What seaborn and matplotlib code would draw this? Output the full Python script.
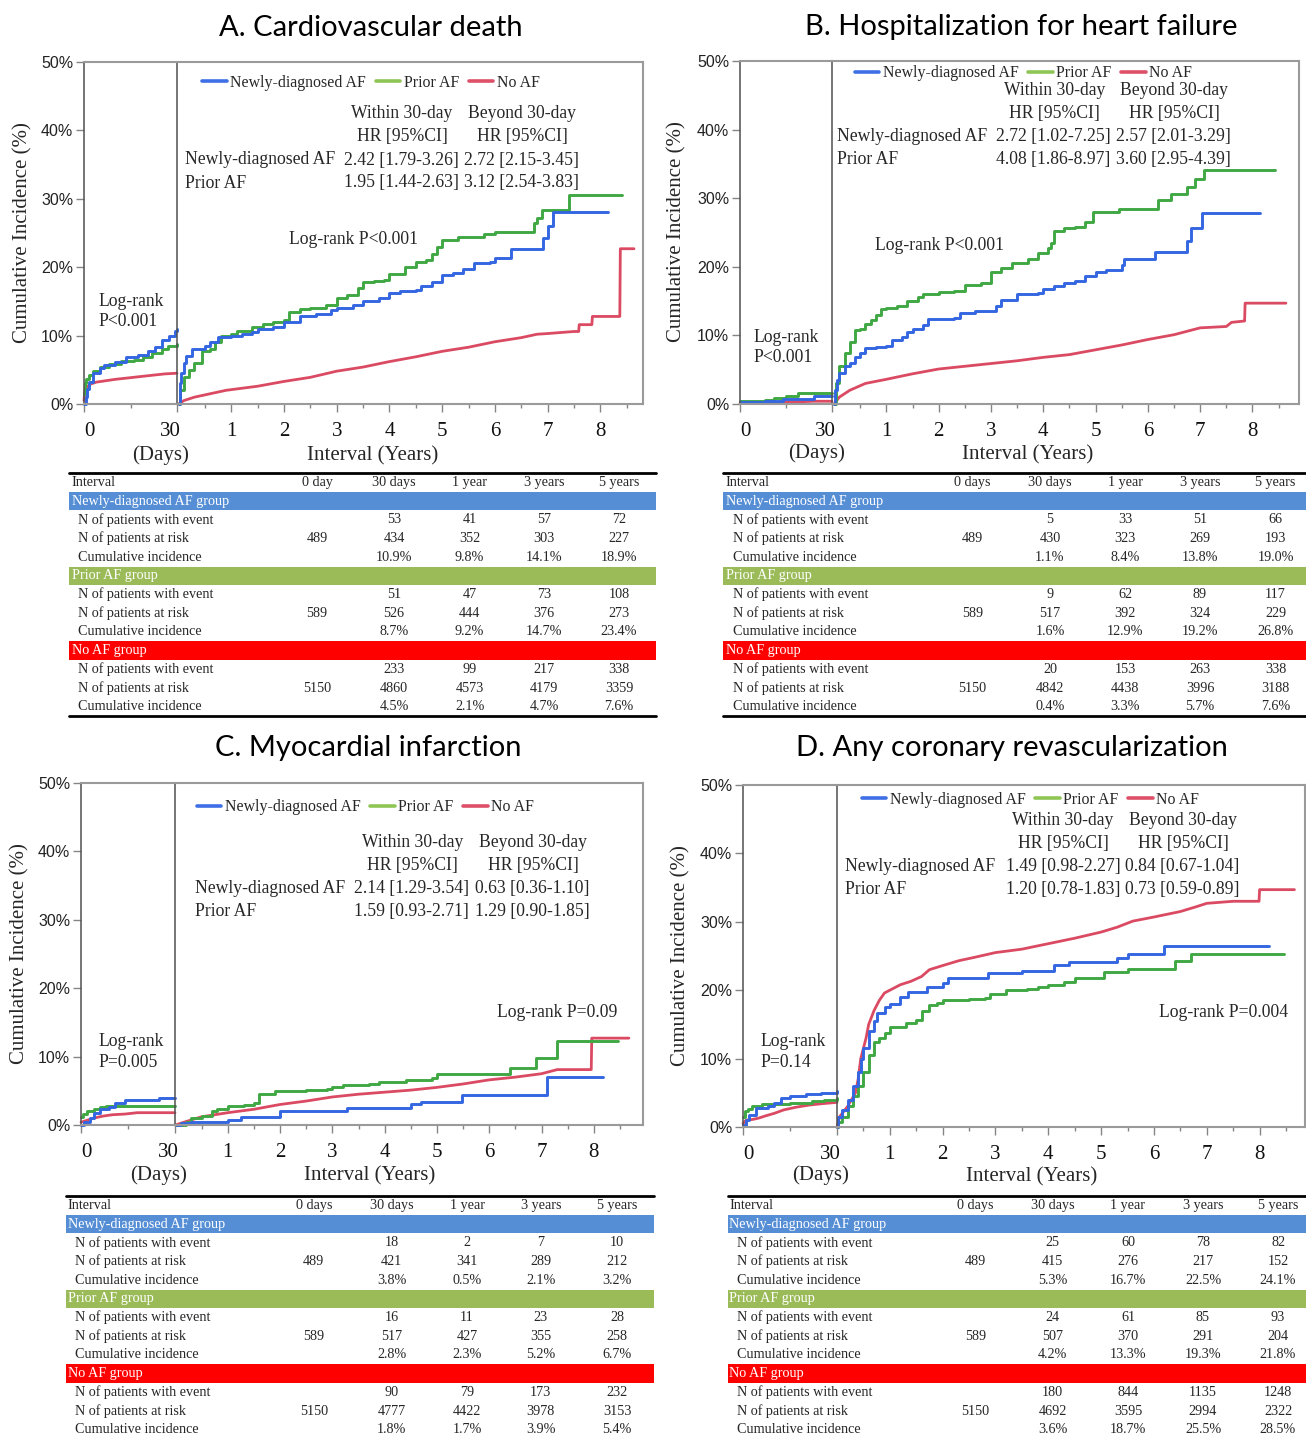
import matplotlib
matplotlib.use("Agg")
import matplotlib.pyplot as plt
import seaborn as sns
from matplotlib.lines import Line2D
from matplotlib.transforms import ScaledTranslation

# ------------------------------------------------------------------ DATA
titles = ["A. Cardiovascular death", "B. Hospitalization for heart failure",
          "C. Myocardial infarction", "D. Any coronary revascularization"]
group_names = ["Newly-diagnosed AF", "Prior AF", "No AF"]
band_labels = ["Newly-diagnosed AF group", "Prior AF group", "No AF group"]
row_labels = ["N of patients with event", "N of patients at risk", "Cumulative incidence"]
col_headers_A = ["Interval", "0 day", "30 days", "1 year", "3 years", "5 years"]
col_headers = ["Interval", "0 days", "30 days", "1 year", "3 years", "5 years"]
hr_headers = ["Within 30-day", "Beyond 30-day"]
hr_sub = "HR [95%CI]"
y_tick_vals = [0, 10, 20, 30, 40, 50]
y_tick_labels = ["0%", "10%", "20%", "30%", "40%", "50%"]
day_tick_vals = [0, 30]
day_tick_labels = ["0", "30"]
year_tick_vals = [1, 2, 3, 4, 5, 6, 7, 8]
year_minor_vals = [0.5, 1.5, 2.5, 3.5, 4.5, 5.5, 6.5, 7.5, 8.5]

# hazard ratios and log-rank
A_hr_new = ["2.42 [1.79-3.26]", "2.72 [2.15-3.45]"]
A_hr_prior = ["1.95 [1.44-2.63]", "3.12 [2.54-3.83]"]
B_hr_new = ["2.72 [1.02-7.25]", "2.57 [2.01-3.29]"]
B_hr_prior = ["4.08 [1.86-8.97]", "3.60 [2.95-4.39]"]
C_hr_new = ["2.14 [1.29-3.54]", "0.63 [0.36-1.10]"]
C_hr_prior = ["1.59 [0.93-2.71]", "1.29 [0.90-1.85]"]
D_hr_new = ["1.49 [0.98-2.27]", "0.84 [0.67-1.04]"]
D_hr_prior = ["1.20 [0.78-1.83]", "0.73 [0.59-0.89]"]
logrank_day = ["P<0.001", "P<0.001", "P=0.005", "P=0.14"]
logrank_year = ["Log-rank P<0.001", "Log-rank P<0.001", "Log-rank P=0.09", "Log-rank P=0.004"]

# risk tables: events (30d,1y,3y,5y), at risk (0d,30d,1y,3y,5y), cumulative incidence %
A_new_events = [53, 41, 57, 72];   A_new_risk = [489, 434, 352, 303, 227];     A_new_ci = [10.9, 9.8, 14.1, 18.9]
A_pri_events = [51, 47, 73, 108];  A_pri_risk = [589, 526, 444, 376, 273];     A_pri_ci = [8.7, 9.2, 14.7, 23.4]
A_no_events = [233, 99, 217, 338]; A_no_risk = [5150, 4860, 4573, 4179, 3359]; A_no_ci = [4.5, 2.1, 4.7, 7.6]
B_new_events = [5, 33, 51, 66];    B_new_risk = [489, 430, 323, 269, 193];     B_new_ci = [1.1, 8.4, 13.8, 19.0]
B_pri_events = [9, 62, 89, 117];   B_pri_risk = [589, 517, 392, 324, 229];     B_pri_ci = [1.6, 12.9, 19.2, 26.8]
B_no_events = [20, 153, 263, 338]; B_no_risk = [5150, 4842, 4438, 3996, 3188]; B_no_ci = [0.4, 3.3, 5.7, 7.6]
C_new_events = [18, 2, 7, 10];     C_new_risk = [489, 421, 341, 289, 212];     C_new_ci = [3.8, 0.5, 2.1, 3.2]
C_pri_events = [16, 11, 23, 28];   C_pri_risk = [589, 517, 427, 355, 258];     C_pri_ci = [2.8, 2.3, 5.2, 6.7]
C_no_events = [90, 79, 173, 232];  C_no_risk = [5150, 4777, 4422, 3978, 3153]; C_no_ci = [1.8, 1.7, 3.9, 5.4]
D_new_events = [25, 60, 78, 82];   D_new_risk = [489, 415, 276, 217, 152];     D_new_ci = [5.3, 16.7, 22.5, 24.1]
D_pri_events = [24, 61, 85, 93];   D_pri_risk = [589, 507, 370, 291, 204];     D_pri_ci = [4.2, 13.3, 19.3, 21.8]
D_no_events = [180, 844, 1135, 1248]; D_no_risk = [5150, 4692, 3595, 2994, 2322]; D_no_ci = [3.6, 18.7, 25.5, 28.5]

# ---- curves, panel A (days 0-30, then years after day 30), values in %
A_day_new_t = [0, 0.5, 1, 1.7, 3, 5, 6.5, 10, 13.5, 17.5, 20.5, 23, 25, 27.5, 29.5, 30]
A_day_new_y = [0, 1.0, 2.2, 3.2, 4.5, 5.2, 5.7, 6.1, 6.8, 7.2, 7.8, 8.3, 9.4, 9.9, 10.6, 10.9]
A_day_pri_t = [0, 0.2, 0.7, 1.5, 3, 5, 8, 12, 16, 19, 22, 25, 27, 30]
A_day_pri_y = [1.5, 3.0, 3.6, 4.3, 4.8, 5.4, 5.9, 6.3, 6.5, 6.9, 7.4, 8.0, 8.5, 8.7]
A_day_no_t = [0, 0.3, 1, 2, 4, 7, 10, 14, 18, 22, 26, 30]
A_day_no_y = [0.5, 2.1, 2.5, 2.9, 3.2, 3.4, 3.6, 3.8, 4.0, 4.2, 4.4, 4.5]
A_yr_new_t = [0, 0.02, 0.05, 0.1, 0.15, 0.25, 0.4, 0.5, 0.6, 0.75, 1.0, 1.2, 1.4, 1.5, 1.8, 2.0, 2.3, 2.6,
              2.9, 3.0, 3.3, 3.5, 3.8, 4.0, 4.2, 4.5, 4.6, 4.8, 5.0, 5.2, 5.4, 5.6, 5.9, 6.0, 6.3, 6.5,
              6.92, 7.0, 7.1, 8.15]
A_yr_new_y = [0, 3.0, 4.5, 6.0, 7.0, 8.0, 8.1, 8.5, 9.0, 9.8, 10.0, 10.2, 10.5, 11.0, 11.3, 12.0, 12.8, 13.2,
              13.8, 14.1, 14.5, 15.0, 15.5, 16.3, 16.5, 16.6, 17.2, 17.8, 18.9, 19.2, 19.7, 20.6, 20.8, 21.3,
              22.6, 22.7, 24.3, 26.0, 28.0, 28.0]
A_yr_pri_t = [0, 0.03, 0.1, 0.2, 0.3, 0.45, 0.6, 0.7, 0.8, 1.0, 1.1, 1.4, 1.6, 1.8, 2.0, 2.1, 2.3, 2.5, 2.8,
              3.0, 3.2, 3.4, 3.5, 3.7, 3.9, 4.0, 4.3, 4.5, 4.7, 4.8, 4.9, 5.0, 5.3, 5.8, 6.0, 6.75, 6.8, 6.9,
              7.4, 8.42]
A_yr_pri_y = [0, 2.0, 4.0, 5.0, 6.0, 7.8, 8.0, 9.0, 10.0, 10.3, 10.7, 11.2, 11.7, 12.0, 12.3, 13.5, 13.9, 14.1,
              14.5, 15.5, 16.0, 17.0, 17.8, 18.0, 18.2, 19.0, 20.0, 20.7, 21.0, 22.0, 23.0, 24.0, 24.4, 24.8,
              25.2, 26.5, 27.2, 28.3, 30.5, 30.5]
A_yr_no_t = [0, 0.1, 0.3, 0.6, 0.9, 1.0, 1.5, 2.0, 2.5, 3.0, 3.5, 4.0, 4.5, 5.0, 5.5, 6.0, 6.5, 6.8, 7.0, 7.5,
             7.59, 7.6, 7.84, 7.85, 8.37, 8.38, 8.64]
A_yr_no_y = [0, 0.5, 1.0, 1.5, 2.0, 2.1, 2.6, 3.3, 3.9, 4.8, 5.4, 6.2, 6.9, 7.7, 8.3, 9.1, 9.7, 10.2, 10.3, 10.6,
             10.6, 11.6, 11.6, 12.8, 12.8, 22.7, 22.7]

# ---- panel B
B_day_new_t = [0, 8, 14, 24, 30]
B_day_new_y = [0.3, 0.5, 0.7, 1.1, 1.1]
B_day_pri_t = [0, 8, 11, 15, 19, 30]
B_day_pri_y = [0.4, 0.6, 0.9, 1.2, 1.6, 1.6]
B_day_no_t = [0, 6, 12, 18, 24, 30]
B_day_no_y = [0.1, 0.15, 0.2, 0.3, 0.4, 0.4]
B_yr_new_t = [0, 0.02, 0.05, 0.1, 0.2, 0.3, 0.4, 0.5, 0.6, 0.8, 1.0, 1.1, 1.3, 1.4, 1.5, 1.7, 1.8, 2.3, 2.4,
              2.7, 3.1, 3.2, 3.5, 3.9, 4.0, 4.2, 4.4, 4.6, 4.8, 5.0, 5.2, 5.5, 5.55, 6.13, 6.74, 6.83, 7.03, 8.15]
B_yr_new_y = [0, 2.0, 3.5, 4.5, 5.5, 6.0, 6.8, 7.5, 8.2, 8.3, 8.5, 9.3, 9.8, 10.5, 11.0, 11.5, 12.4, 12.6, 13.2,
              13.6, 14.3, 15.1, 16.1, 16.2, 16.8, 17.2, 17.6, 18.0, 18.7, 19.2, 19.5, 20.2, 21.2, 22.1, 23.8,
              25.6, 27.9, 27.9]
B_yr_pri_t = [0, 0.03, 0.1, 0.2, 0.3, 0.4, 0.5, 0.6, 0.7, 0.8, 0.9, 1.0, 1.2, 1.4, 1.6, 1.7, 2.0, 2.3, 2.5, 2.8,
              3.0, 3.2, 3.4, 3.7, 3.9, 4.1, 4.15, 4.2, 4.4, 4.6, 4.8, 4.95, 5.45, 6.2, 6.44, 6.75, 6.9, 7.08, 8.43]
B_yr_pri_y = [0, 3.0, 5.5, 7.5, 9.0, 10.8, 11.0, 11.7, 12.3, 13.0, 13.8, 14.0, 14.3, 15.0, 15.6, 16.1, 16.3,
              16.5, 17.3, 17.7, 19.2, 19.8, 20.5, 21.2, 22.0, 22.8, 23.5, 25.2, 25.6, 25.8, 26.6, 28.0, 28.4,
              29.7, 30.6, 31.6, 32.8, 34.1, 34.1]
B_yr_no_t = [0, 0.1, 0.3, 0.6, 1.0, 1.5, 2.0, 2.5, 3.0, 3.5, 4.0, 4.5, 5.0, 5.5, 6.0, 6.5, 7.0, 7.5, 7.6, 7.85,
             7.86, 8.64]
B_yr_no_y = [0, 1.0, 2.0, 3.0, 3.6, 4.4, 5.1, 5.5, 5.9, 6.3, 6.8, 7.2, 7.9, 8.6, 9.4, 10.1, 11.1, 11.3, 11.9,
             12.1, 14.7, 14.7]

# ---- panel C
C_day_new_t = [0, 1, 3, 4, 6, 9, 11, 14, 25, 30]
C_day_new_y = [0, 0.5, 1.0, 1.8, 2.3, 2.7, 3.2, 3.7, 3.9, 3.9]
C_day_pri_t = [0, 0.5, 2, 4, 6, 8, 30]
C_day_pri_y = [1.2, 1.6, 2.0, 2.3, 2.6, 2.8, 2.8]
C_day_no_t = [0, 2, 4, 7, 10, 14, 18, 30]
C_day_no_y = [0.4, 0.7, 1.0, 1.3, 1.5, 1.6, 1.8, 1.8]
C_yr_new_t = [0, 0.1, 0.3, 1.0, 1.25, 2.0, 3.27, 4.5, 4.7, 5.47, 7.1, 8.18]
C_yr_new_y = [0, 0.3, 0.5, 0.8, 1.1, 2.1, 2.5, 3.0, 3.3, 4.4, 7.0, 7.0]
C_yr_pri_t = [0, 0.2, 0.3, 0.5, 0.7, 0.8, 1.0, 1.3, 1.5, 1.6, 1.8, 1.9, 2.5, 2.9, 3.0, 3.2, 3.7, 3.9, 4.4,
              4.9, 5.0, 6.4, 6.9, 7.3, 8.46]
C_yr_pri_y = [0, 0.5, 1.0, 1.3, 2.0, 2.3, 2.8, 2.9, 3.2, 4.5, 4.6, 5.0, 5.1, 5.2, 5.6, 5.8, 6.0, 6.3, 6.6,
              6.9, 7.4, 8.4, 9.8, 12.3, 12.3]
C_yr_no_t = [0, 0.2, 0.5, 1.0, 1.5, 2.0, 2.5, 3.0, 3.5, 4.0, 4.5, 5.0, 5.5, 6.0, 6.5, 7.0, 7.3, 7.95, 7.96, 8.67]
C_yr_no_y = [0, 0.5, 1.2, 1.8, 2.3, 3.0, 3.5, 4.1, 4.5, 4.8, 5.1, 5.5, 6.0, 6.6, 7.0, 7.5, 8.1, 8.1, 12.7, 12.7]

# ---- panel D
D_day_new_t = [0, 1, 2, 4, 8, 10, 12, 15, 20, 25, 30]
D_day_new_y = [0.3, 1.0, 1.8, 2.8, 3.0, 3.5, 4.2, 4.6, 4.8, 5.0, 5.3]
D_day_pri_t = [0, 0.5, 1.5, 3, 6, 10, 15, 22, 26, 30]
D_day_pri_y = [1.5, 2.3, 2.7, 3.0, 3.3, 3.4, 3.5, 3.8, 4.0, 4.2]
D_day_no_t = [0, 1, 3, 5, 7, 10, 13, 17, 21, 25, 30]
D_day_no_y = [0.5, 1.0, 1.1, 1.3, 1.6, 2.0, 2.5, 2.9, 3.2, 3.4, 3.6]
D_yr_new_t = [0, 0.02, 0.1, 0.2, 0.3, 0.4, 0.45, 0.5, 0.6, 0.7, 0.75, 0.9, 1.0, 1.2, 1.35, 1.7, 2.0, 2.1,
              2.85, 3.5, 4.1, 4.4, 5.3, 5.5, 6.2, 8.17]
D_yr_new_y = [0, 1.5, 2.5, 4.0, 6.0, 8.0, 10.0, 11.5, 14.0, 15.5, 16.7, 17.5, 18.0, 19.0, 19.8, 20.4, 21.0,
              21.8, 22.5, 22.8, 23.7, 24.1, 24.7, 25.3, 26.4, 26.4]
D_yr_pri_t = [0, 0.02, 0.1, 0.2, 0.3, 0.4, 0.5, 0.6, 0.7, 0.8, 0.9, 1.0, 1.3, 1.5, 1.6, 1.75, 1.9, 2.0, 2.5,
              2.8, 2.9, 3.2, 3.6, 3.8, 4.0, 4.3, 4.5, 5.05, 5.5, 6.4, 6.7, 8.47]
D_yr_pri_y = [0, 0.8, 1.5, 3.0, 4.5, 6.0, 8.0, 10.5, 12.5, 13.0, 13.8, 14.6, 15.2, 15.6, 17.0, 17.9, 18.2,
              18.5, 18.7, 18.9, 19.5, 20.0, 20.2, 20.5, 20.8, 21.2, 21.8, 22.6, 23.1, 24.2, 25.3, 25.3]
D_yr_no_t = [0, 0.05, 0.2, 0.35, 0.4, 0.45, 0.55, 0.6, 0.7, 0.8, 0.9, 1.0, 1.2, 1.4, 1.6, 1.75, 2.0, 2.3, 2.6,
             3.0, 3.5, 4.0, 4.5, 5.0, 5.3, 5.6, 6.0, 6.5, 6.8, 7.0, 7.5, 7.99, 8.0, 8.66]
D_yr_no_y = [0, 1.5, 3.0, 5.0, 7.0, 10.0, 13.0, 15.0, 17.0, 18.5, 19.6, 20.0, 20.8, 21.3, 22.0, 23.0, 23.6,
             24.3, 24.8, 25.5, 26.0, 26.8, 27.6, 28.5, 29.2, 30.1, 30.7, 31.5, 32.2, 32.7, 33.0, 33.0, 34.7, 34.7]

# ------------------------------------------------------------------ STYLE
curve_colors = ["#3366E0", "#3FA843", "#DB4A63"]
legend_colors = ["#3F6FE6", "#8FC555", "#DE5068"]
band_colors = ["#558ED5", "#9BBB59", "#FF0000"]
SERIF = "Liberation Serif"
SANS = "Liberation Sans"
TITLE_FONT = "Lato"

W, H = 1306, 1435
sns.set_theme(style="white")
plt.rcParams["font.family"] = [SERIF, "DejaVu Serif"]
fig = plt.figure(figsize=(W / 100, H / 100), dpi=100)
fig.patch.set_facecolor("white")


def rect(x0, y0, x1, y1):
    return [x0 / W, 1 - y1 / H, (x1 - x0) / W, (y1 - y0) / H]


def ptext(x, y, s, **kw):
    kw.setdefault("va", "center")
    kw.setdefault("family", SERIF)
    return fig.text(x / W, 1 - y / H, s, **kw)


panels = [
    dict(title=titles[0], title_xy=(371, 28), day=(84, 177), yr=(177, 643), ys=(62, 404), yrlim=(-0.03, 8.81),
         ylab=(23, 233), days_xy=(161, 455), years_xy=(373, 456), leg=(202, 83),
         hrx=(185, 344, 464, 402, 522), hry=(114, 137, 160, 183), hr_new=A_hr_new, hr_pri=A_hr_prior,
         lr_day=(98, 301, 322), lr_yr=(289, 240),
         curves_day=[(A_day_no_t, A_day_no_y), (A_day_pri_t, A_day_pri_y), (A_day_new_t, A_day_new_y)],
         curves_yr=[(A_yr_no_t, A_yr_no_y), (A_yr_pri_t, A_yr_pri_y), (A_yr_new_t, A_yr_new_y)],
         tab=(68.5, 655.5, 473, 716), tab_lab=(71.5, 78.5), tab_cols=[317, 394, 469.6, 544, 619],
         headers=col_headers_A,
         table=[(A_new_events, A_new_risk, A_new_ci), (A_pri_events, A_pri_risk, A_pri_ci),
                (A_no_events, A_no_risk, A_no_ci)]),
    dict(title=titles[1], title_xy=(1021, 27), day=(740, 832), yr=(832, 1299.5), ys=(61, 404), yrlim=(-0.04, 8.90),
         ylab=(677, 232), days_xy=(816.5, 453), years_xy=(1028, 455), leg=(854.6, 73.3),
         hrx=(837, 996, 1115.5, 1054.5, 1174), hry=(90.7, 113.3, 136.7, 159.3), hr_new=B_hr_new, hr_pri=B_hr_prior,
         lr_day=(753, 337, 358), lr_yr=(875.3, 245),
         curves_day=[(B_day_no_t, B_day_no_y), (B_day_pri_t, B_day_pri_y), (B_day_new_t, B_day_new_y)],
         curves_yr=[(B_yr_no_t, B_yr_no_y), (B_yr_pri_t, B_yr_pri_y), (B_yr_new_t, B_yr_new_y)],
         tab=(722.5, 1306, 473, 716), tab_lab=(725.6, 733), tab_cols=[972.6, 1050, 1125, 1200, 1275.6],
         headers=col_headers,
         table=[(B_new_events, B_new_risk, B_new_ci), (B_pri_events, B_pri_risk, B_pri_ci),
                (B_no_events, B_no_risk, B_no_ci)]),
    dict(title=titles[2], title_xy=(368, 748), day=(81, 175), yr=(175, 643), ys=(783, 1125), yrlim=(-0.01, 8.94),
         ylab=(20, 954), days_xy=(158.6, 1175), years_xy=(370, 1176), leg=(196.7, 807.3),
         hrx=(195.4, 354.5, 474.6, 412.8, 533), hry=(842.3, 865.7, 888.3, 911.7), hr_new=C_hr_new, hr_pri=C_hr_prior,
         lr_day=(98.1, 1041.7, 1062.3), lr_yr=(497, 1012.3),
         curves_day=[(C_day_no_t, C_day_no_y), (C_day_pri_t, C_day_pri_y), (C_day_new_t, C_day_new_y)],
         curves_yr=[(C_yr_no_t, C_yr_no_y), (C_yr_pri_t, C_yr_pri_y), (C_yr_new_t, C_yr_new_y)],
         tab=(65.8, 654, 1196, 1435), tab_lab=(67.7, 74.6), tab_cols=[313.8, 391.5, 467, 540.8, 617],
         headers=col_headers,
         table=[(C_new_events, C_new_risk, C_new_ci), (C_pri_events, C_pri_risk, C_pri_ci),
                (C_no_events, C_no_risk, C_no_ci)]),
    dict(title=titles[3], title_xy=(1012, 748), day=(743, 837), yr=(837, 1305), ys=(785, 1127), yrlim=(0.0, 8.86),
         ylab=(681, 956), days_xy=(820.7, 1175), years_xy=(1032, 1176.7), leg=(861.7, 800),
         hrx=(845, 1005.8, 1124.6, 1063, 1183), hry=(820.7, 843.3, 866.7, 889.3), hr_new=D_hr_new, hr_pri=D_hr_prior,
         lr_day=(760.2, 1041.7, 1062.3), lr_yr=(1159, 1012.7),
         curves_day=[(D_day_no_t, D_day_no_y), (D_day_pri_t, D_day_pri_y), (D_day_new_t, D_day_new_y)],
         curves_yr=[(D_yr_no_t, D_yr_no_y), (D_yr_pri_t, D_yr_pri_y), (D_yr_new_t, D_yr_new_y)],
         tab=(727.5, 1306, 1196, 1435), tab_lab=(729.4, 737), tab_cols=[975.6, 1052.7, 1128, 1203, 1278],
         headers=col_headers,
         table=[(D_new_events, D_new_risk, D_new_ci), (D_pri_events, D_pri_risk, D_pri_ci),
                (D_no_events, D_no_risk, D_no_ci)]),
]

draw_colors = [curve_colors[2], curve_colors[1], curve_colors[0]]   # order: No AF, Prior, Newly
ROW_H = 18.7
TXT = 12.7
GRAY = "#9a9a9a"
TICKC = "#858585"

for i, P in enumerate(panels):
    axd = fig.add_axes(rect(P["day"][0], P["ys"][0], P["day"][1], P["ys"][1]))
    axy = fig.add_axes(rect(P["yr"][0], P["ys"][0], P["yr"][1], P["ys"][1]))
    axd.set_zorder(3)
    axd.set_facecolor("none")
    axy.set_facecolor("white")
    for k, ((td, yd), (ty, yy)) in enumerate(zip(P["curves_day"], P["curves_yr"])):
        ds = "default" if k == 0 else "steps-post"
        lw = 2.0 if k == 0 else 2.1
        sns.lineplot(x=td, y=yd, ax=axd, color=draw_colors[k], linewidth=lw, drawstyle=ds,
                     estimator=None, sort=False, legend=False, clip_on=False)
        sns.lineplot(x=ty, y=yy, ax=axy, color=draw_colors[k], linewidth=lw, drawstyle=ds,
                     estimator=None, sort=False, legend=False, clip_on=False)

    for ax in (axd, axy):
        ax.set_xlabel("")
        ax.set_ylabel("")
        ax.set_ylim(0, 50)
        for s in ax.spines.values():
            s.set_color(GRAY)
            s.set_linewidth(1.5)
    axd.set_xlim(0, 30)
    axy.set_xlim(*P["yrlim"])
    axd.spines["left"].set_color("#505050")
    axd.spines["left"].set_linewidth(1.1)
    axd.spines["right"].set_color("#505050")
    axd.spines["right"].set_linewidth(1.1)
    axy.spines["left"].set_visible(False)

    axd.set_yticks(y_tick_vals)
    axd.set_yticklabels(y_tick_labels, fontfamily=SANS, fontsize=11.5, color="#222222")
    axd.tick_params(axis="y", which="major", direction="out", length=5.8, width=1, color=TICKC,
                    pad=2, left=True)
    axd.set_xticks(day_tick_vals)
    axd.set_xticklabels(day_tick_labels, fontsize=15, color="#111111", fontfamily=SERIF)
    axd.set_xticks([15], minor=True)
    axd.tick_params(axis="x", which="major", direction="out", length=5.8, width=1, color=TICKC,
                    pad=7.5, bottom=True)
    axd.tick_params(axis="x", which="minor", direction="out", length=2.9, width=1, color=TICKC,
                    bottom=True)
    labs = axd.get_xticklabels()
    labs[0].set_transform(labs[0].get_transform() + ScaledTranslation(5.5 / 100, 0, fig.dpi_scale_trans))
    labs[1].set_transform(labs[1].get_transform() + ScaledTranslation(-6.5 / 100, 0, fig.dpi_scale_trans))

    axy.set_yticks([])
    axy.set_xticks(year_tick_vals)
    axy.set_xticklabels([str(v) for v in year_tick_vals], fontsize=15, color="#111111", fontfamily=SERIF)
    axy.set_xticks(year_minor_vals, minor=True)
    axy.tick_params(axis="x", which="major", direction="out", length=5.8, width=1, color=TICKC,
                    pad=7.5, bottom=True)
    axy.tick_params(axis="x", which="minor", direction="out", length=2.9, width=1, color=TICKC,
                    bottom=True)

    # titles and axis labels
    ptext(P["title_xy"][0], P["title_xy"][1], P["title"], ha="center", fontsize=21,
          family=[TITLE_FONT, "DejaVu Sans"], color="black")
    ptext(P["ylab"][0], P["ylab"][1], "Cumulative Incidence (%)", ha="center", rotation=90, fontsize=15)
    ptext(P["days_xy"][0], P["days_xy"][1], "(Days)", ha="center", fontsize=15)
    ptext(P["years_xy"][0], P["years_xy"][1], "Interval (Years)", ha="center", fontsize=15)

    # legend
    handles = [Line2D([], [], color=c, lw=2.6) for c in legend_colors]
    fig.legend(handles, group_names, loc="center left", ncol=3, frameon=False,
               bbox_to_anchor=(P["leg"][0] / W, 1 - P["leg"][1] / H), bbox_transform=fig.transFigure,
               borderpad=0, borderaxespad=0, handlelength=1.55, handletextpad=0.22, columnspacing=0.62,
               prop={"family": SERIF, "size": 11.4})

    # hazard-ratio block
    lx, v1, v2, c1, c2 = P["hrx"]
    yw, yh, yn, yp = P["hry"]
    ptext(c1, yw, hr_headers[0], ha="center", fontsize=TXT)
    ptext(c2, yw, hr_headers[1], ha="center", fontsize=TXT)
    ptext(c1, yh, hr_sub, ha="center", fontsize=TXT)
    ptext(c2, yh, hr_sub, ha="center", fontsize=TXT)
    ptext(lx, yn, group_names[0], ha="left", fontsize=TXT)
    ptext(v1, yn, P["hr_new"][0], ha="left", fontsize=TXT)
    ptext(v2, yn, P["hr_new"][1], ha="left", fontsize=TXT)
    ptext(lx, yp, group_names[1], ha="left", fontsize=TXT)
    ptext(v1, yp, P["hr_pri"][0], ha="left", fontsize=TXT)
    ptext(v2, yp, P["hr_pri"][1], ha="left", fontsize=TXT)

    # log-rank
    ptext(P["lr_day"][0], P["lr_day"][1], "Log-rank", ha="left", fontsize=TXT)
    ptext(P["lr_day"][0], P["lr_day"][2], logrank_day[i], ha="left", fontsize=TXT)
    ptext(P["lr_yr"][0], P["lr_yr"][1], logrank_year[i], ha="left", fontsize=TXT)

    # risk table
    x0, x1, ty0, ty1 = P["tab"]
    axt = fig.add_axes(rect(x0, ty0, x1, ty1))
    axt.set_axis_off()
    nrows = (ty1 - ty0) / ROW_H
    axt.set_xlim(x0, x1)
    axt.set_ylim(nrows, 0)
    axt.axhline(0, color="black", lw=2.0, clip_on=False)
    if ty1 < H - 2:
        axt.axhline(nrows, color="black", lw=2.0, clip_on=False)
    hx, rx = P["tab_lab"]
    cols = P["tab_cols"]
    TF = 10.2
    axt.text(hx, 0.5, P["headers"][0], ha="left", va="center", fontsize=TF, family=SERIF)
    for c, h in zip(cols, P["headers"][1:]):
        axt.text(c, 0.5, h, ha="center", va="center", fontsize=TF, family=SERIF)
    for g in range(3):
        band_row = 1 + 4 * g
        axt.barh(y=band_row + 0.5, width=x1 - x0, left=x0, height=1.0, color=band_colors[g], linewidth=0)
        axt.text(hx, band_row + 0.5, band_labels[g], ha="left", va="center", fontsize=TF, color="white",
                 family=SERIF)
        ev, rk, ci = P["table"][g]
        for r in range(3):
            axt.text(rx, band_row + r + 1.5, row_labels[r], ha="left", va="center", fontsize=TF, family=SERIF)
        for j in range(4):
            axt.text(cols[j + 1], band_row + 1.5, str(ev[j]), ha="center", va="center", fontsize=TF,
                     family=SERIF)
            axt.text(cols[j + 1], band_row + 3.5, "%.1f%%" % ci[j], ha="center", va="center", fontsize=TF,
                     family=SERIF)
        for j in range(5):
            axt.text(cols[j], band_row + 2.5, str(rk[j]), ha="center", va="center", fontsize=TF,
                     family=SERIF)

fig.savefig("out.png", dpi=100, facecolor="white")
